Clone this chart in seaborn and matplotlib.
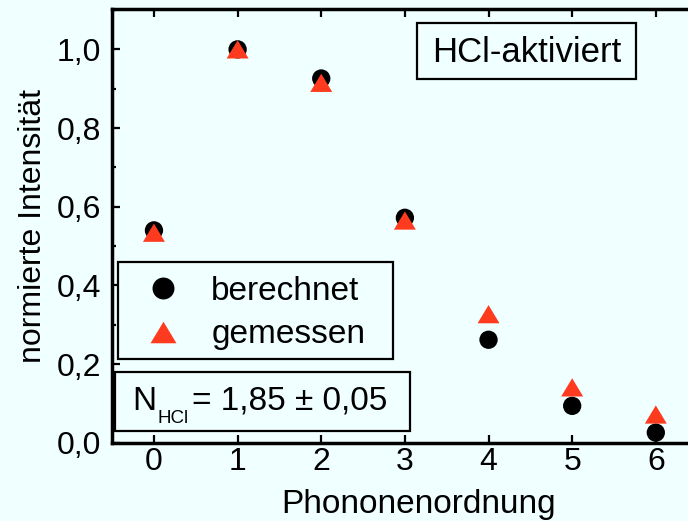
import matplotlib
matplotlib.use("Agg")
import matplotlib.pyplot as plt
import seaborn as sns
import pandas as pd
from matplotlib.ticker import MultipleLocator, FuncFormatter
from matplotlib.lines import Line2D
from matplotlib.patches import Rectangle

# Phonon orders and normalised intensities
ordnung = [0, 1, 2, 3, 4, 5, 6]
berechnet = [0.540, 1.000, 0.926, 0.572, 0.262, 0.094, 0.026]
gemessen = [0.534, 1.000, 0.915, 0.565, 0.327, 0.141, 0.072]
x_ticks = [0, 1, 2, 3, 4, 5, 6]
y_ticks = [0.0, 0.2, 0.4, 0.6, 0.8, 1.0]
series_labels = ["berechnet", "gemessen"]

bg = "#F0FFFF"
red = "#FF3B1F"
# slightly flattened up-triangle
tri = [(0, 0.83), (-1, -0.83), (1, -0.83), (0, 0.83)]

sns.set_style("ticks")
plt.rcParams["font.family"] = ["Liberation Sans", "DejaVu Sans"]
for key in ("text.color", "axes.labelcolor", "xtick.color", "ytick.color"):
    plt.rcParams[key] = "black"

df = pd.DataFrame({"ordnung": ordnung, "berechnet": berechnet, "gemessen": gemessen})

fig = plt.figure(figsize=(6.88, 5.21), dpi=100, facecolor=bg)
ax = fig.add_axes([0.163, 0.150, 0.851, 0.833])
ax.set_facecolor(bg)

sns.scatterplot(data=df, x="ordnung", y="berechnet", ax=ax, marker="o",
                s=174, color="black", edgecolor="none", zorder=3)
sns.scatterplot(data=df, x="ordnung", y="gemessen", ax=ax, marker=tri,
                s=250, color=red, edgecolor="none", zorder=4)

ax.set_xlim(-0.5, 6.5)
ax.set_ylim(0.0, 1.103)
ax.set_xticks(x_ticks)
ax.set_yticks(y_ticks)
ax.yaxis.set_minor_locator(MultipleLocator(0.1))
ax.yaxis.set_major_formatter(FuncFormatter(lambda v, p: f"{v:.1f}".replace(".", ",")))

for s in ax.spines.values():
    s.set_linewidth(2.5)
    s.set_color("black")
ax.tick_params(axis="both", which="major", direction="in", length=5.8, width=1.6,
               labelsize=23, colors="black")
ax.tick_params(axis="x", which="major", top=True, pad=3)
ax.tick_params(axis="y", which="major", pad=8)
ax.tick_params(axis="y", which="minor", direction="in", length=3.1, width=1.6)

ax.set_xlabel("Phononenordnung", fontsize=24)
ax.xaxis.set_label_coords(0.524, -0.106)
ax.set_ylabel("normierte Intensität", fontsize=23, labelpad=6)

frame_kw = dict(transform=ax.transAxes, facecolor=bg, edgecolor="black",
                linewidth=1.6, zorder=5)

# legend with a separately drawn frame
ax.add_patch(Rectangle((0.0102, 0.1935), 0.4696, 0.2235, **frame_kw))
handles = [
    Line2D([], [], linestyle="none", marker="o", markersize=15.8,
           markerfacecolor="black", markeredgecolor="none"),
    Line2D([], [], linestyle="none", marker=tri, markersize=18.7,
           markerfacecolor=red, markeredgecolor="none"),
]
leg = ax.legend(handles, series_labels, loc="upper left",
                bbox_to_anchor=(0.0581, 0.385), fontsize=24, frameon=False,
                handletextpad=0.95, borderpad=0, labelspacing=0.38,
                handlelength=1.0, borderaxespad=0)
leg.set_zorder(6)

# annotation boxes
ax.add_patch(Rectangle((0.5207, 0.8387), 0.3740, 0.1290, **frame_kw))
ax.text(0.7077, 0.878, "HCl-aktiviert", transform=ax.transAxes, fontsize=25,
        va="baseline", ha="center", zorder=6)

ax.add_patch(Rectangle((0.0051, 0.0276), 0.5037, 0.1360, **frame_kw))
ax.text(0.0341, 0.076, "N", transform=ax.transAxes, fontsize=24,
        va="baseline", ha="left", zorder=6)
ax.text(0.0769, 0.046, "HCl", transform=ax.transAxes, fontsize=13.5,
        va="baseline", ha="left", zorder=6)
ax.text(0.1366, 0.076, "= 1,85 ± 0,05", transform=ax.transAxes, fontsize=24,
        va="baseline", ha="left", zorder=6)

fig.savefig("out.png", dpi=100, facecolor=bg)
